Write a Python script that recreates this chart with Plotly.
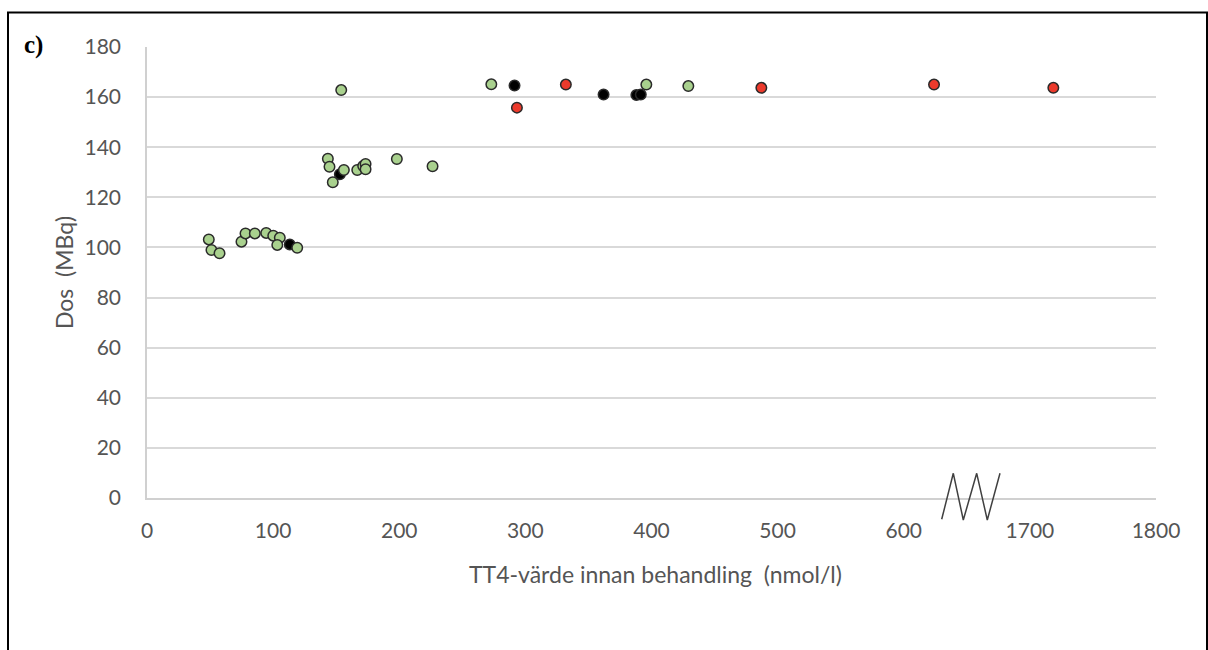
import plotly.graph_objects as go

# --- data (TT4 nmol/l, dose MBq) ---
green_x = [49.0, 51.1, 57.5, 74.9, 78.1, 85.5, 94.5, 100.1, 105.3, 103.3, 119.1,
           154.0, 143.4, 144.7, 156.1, 147.3, 166.7, 171.4, 173.3, 173.3, 198.1, 226.4,
           273.0, 395.9, 429.2]
green_y = [103.2, 99.0, 97.7, 102.3, 105.6, 105.6, 105.8, 104.7, 103.9, 101.0, 99.9,
           162.8, 135.4, 132.2, 130.9, 126.0, 130.9, 132.5, 133.3, 131.2, 135.3, 132.4,
           165.1, 165.0, 164.4]
black_x = [113.2, 152.9, 291.4, 362.0, 388.0, 391.5]
black_y = [101.2, 129.2, 164.6, 161.0, 160.8, 161.0]
red_x = [293.3, 332.1, 487.1, 624.0, 1718.6]
red_y = [155.8, 165.0, 163.7, 165.0, 163.7]

tick_labels = ["0", "100", "200", "300", "400", "500", "600", "1700", "1800"]
tick_values = [0, 100, 200, 300, 400, 500, 600, 1700, 1800]
y_ticks = [0, 20, 40, 60, 80, 100, 120, 140, 160, 180]

BREAK_FROM, BREAK_TO = 700, 1700  # axis break: 1700 is drawn where 700 would be


def to_axis(v):
    return v if v < BREAK_FROM - 50 else v - (BREAK_TO - BREAK_FROM)


W, H = 1208, 650
L, R, T, B = 147, 52, 47, 152
pw, ph = W - L - R, H - T - B


def px(xpix):
    return (xpix - L) / pw


def py(ypix):
    return (H - B - ypix) / ph


fig = go.Figure()
marker_line = dict(color="#2a2a2a", width=1.5)
fig.add_trace(go.Scatter(x=[to_axis(v) for v in black_x], y=black_y, mode="markers",
                         marker=dict(size=10.5, color="#000000", line=marker_line),
                         showlegend=False))
fig.add_trace(go.Scatter(x=[to_axis(v) for v in red_x], y=red_y, mode="markers",
                         marker=dict(size=10.5, color="#ec3a2c", line=marker_line),
                         showlegend=False))
fig.add_trace(go.Scatter(x=[to_axis(v) for v in green_x], y=green_y, mode="markers",
                         marker=dict(size=10.5, color="#a9d18e", line=marker_line),
                         showlegend=False))

font_family = "Lato, 'Open Sans', sans-serif"
fig.update_layout(
    width=W, height=H,
    margin=dict(l=L, r=R, t=T, b=B, pad=0),
    paper_bgcolor="white", plot_bgcolor="white",
    font=dict(family=font_family, color="#555555", size=21),
    showlegend=False,
    xaxis=dict(range=[0, 800], tickvals=[to_axis(v) for v in tick_values],
               ticktext=tick_labels, showgrid=False, zeroline=False,
               showline=True, linecolor="#d0d0d0", linewidth=1.5,
               ticks="", ticklabelstandoff=13,
               tickfont=dict(size=21, color="#555555")),
    yaxis=dict(range=[0, 180], tickvals=y_ticks, showgrid=True,
               gridcolor="#d9d9d9", gridwidth=1.5, zeroline=False,
               showline=True, linecolor="#d0d0d0", linewidth=1.5,
               ticks="", ticklabelstandoff=20,
               tickfont=dict(size=21, color="#555555")),
)

# axis titles
fig.add_annotation(text="TT4-värde innan behandling  (nmol/l)", xref="paper", yref="paper",
                   x=px(655), y=py(574), showarrow=False, xanchor="center", yanchor="middle",
                   font=dict(size=23, color="#555555", family=font_family))
fig.add_annotation(text="Dos  (MBq)", xref="paper", yref="paper",
                   x=px(64), y=py(273), showarrow=False, textangle=-90,
                   xanchor="center", yanchor="middle",
                   font=dict(size=23, color="#555555", family=font_family))
# panel label
fig.add_annotation(text="<b>c)</b>", xref="paper", yref="paper",
                   x=px(33), y=py(45), showarrow=False, xanchor="center", yanchor="middle",
                   font=dict(size=25, color="#000000", family="'Liberation Serif', serif"))

# outer frame
fig.add_shape(type="rect", xref="paper", yref="paper",
              x0=px(8), x1=px(1207), y0=py(655), y1=py(12.5),
              line=dict(color="black", width=2), fillcolor="rgba(0,0,0,0)", layer="above")

# axis-break zigzag
zz_px = [941.7, 953.3, 963.3, 976.7, 987.3, 1000.0]
zz_py = [519.3, 473.3, 520.0, 473.3, 520.0, 473.3]
path = "M " + " L ".join(f"{px(a):.5f},{py(b):.5f}" for a, b in zip(zz_px, zz_py))
fig.add_shape(type="path", xref="paper", yref="paper", path=path,
              line=dict(color="#404040", width=1.5), layer="above")

fig.write_html("out.html")
